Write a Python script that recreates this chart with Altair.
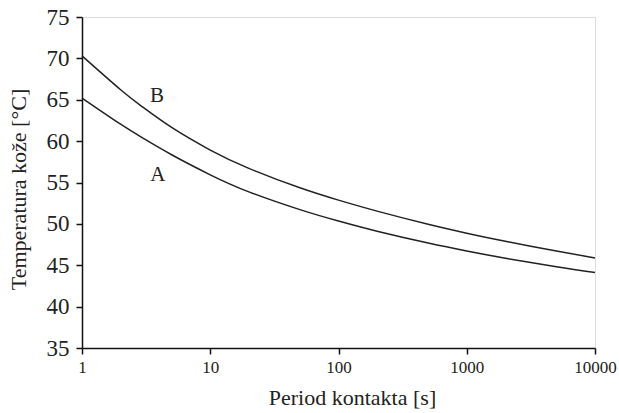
import altair as alt
import pandas as pd

t_vals = [1, 2, 3, 5, 10, 20, 50, 100, 200, 500, 1000, 2000, 5000, 10000]
curve_a = [65.2, 62.04, 60.34, 58.35, 55.93, 53.87, 51.72, 50.34, 49.11, 47.68, 46.72, 45.85, 44.82, 44.12]
curve_b = [70.3, 66.21, 64.07, 61.65, 58.92, 56.71, 54.36, 52.87, 51.54, 49.95, 48.87, 47.89, 46.73, 45.88]

label_names = ["B", "A"]
label_x = [3.85, 3.9]
label_y = [65.4, 55.9]

x_ticks = [1, 10, 100, 1000, 10000]
y_ticks = [35, 40, 45, 50, 55, 60, 65, 70, 75]

rows = []
for t, a, b in zip(t_vals, curve_a, curve_b):
    rows.append({"t": t, "temp": a, "curve": "A"})
    rows.append({"t": t, "temp": b, "curve": "B"})
df = pd.DataFrame(rows)
labels = pd.DataFrame({"t": label_x, "temp": label_y, "name": label_names})

FONT = "Liberation Serif"
INK = "#222"

x = alt.X("t:Q", scale=alt.Scale(type="log", domain=[1, 10000]),
          axis=alt.Axis(values=x_ticks, title="Period kontakta [s]", format="d",
                        grid=False, tickSize=6, labelFontSize=17, titleFontSize=22,
                        labelPadding=5, titlePadding=12, labelFlush=False, titleX=270,
                        labelColor=INK, titleColor=INK,
                        domainColor="#111", tickColor="#111", domainWidth=1.5, tickWidth=1.5,
                        labelFont=FONT, titleFont=FONT, titleFontWeight="normal"))
y = alt.Y("temp:Q", scale=alt.Scale(domain=[35, 75], nice=False, zero=False),
          axis=alt.Axis(values=y_ticks, title="Temperatura kože [°C]", grid=False,
                        tickSize=6, labelFontSize=23, titleFontSize=22, labelPadding=7,
                        titlePadding=16, titleY=172, labelColor=INK, titleColor=INK,
                        domainColor="#111", tickColor="#111", domainWidth=1.5, tickWidth=1.5,
                        labelFont=FONT, titleFont=FONT, titleFontWeight="normal"))

lines = alt.Chart(df).mark_line(color=INK, strokeWidth=1.5, interpolate="natural").encode(
    x=x, y=y, detail="curve:N")
text = alt.Chart(labels).mark_text(font=FONT, fontSize=21, color=INK).encode(
    x="t:Q", y="temp:Q", text="name:N")

chart = (lines + text).properties(
    width=513, height=331,
    autosize="none",
    padding={"left": 82, "top": 17, "right": 24, "bottom": 65},
).configure_view(stroke="#111", strokeWidth=1.5).configure(background="white")

chart.save("out.html", embed_options={"renderer": "svg", "actions": False})
